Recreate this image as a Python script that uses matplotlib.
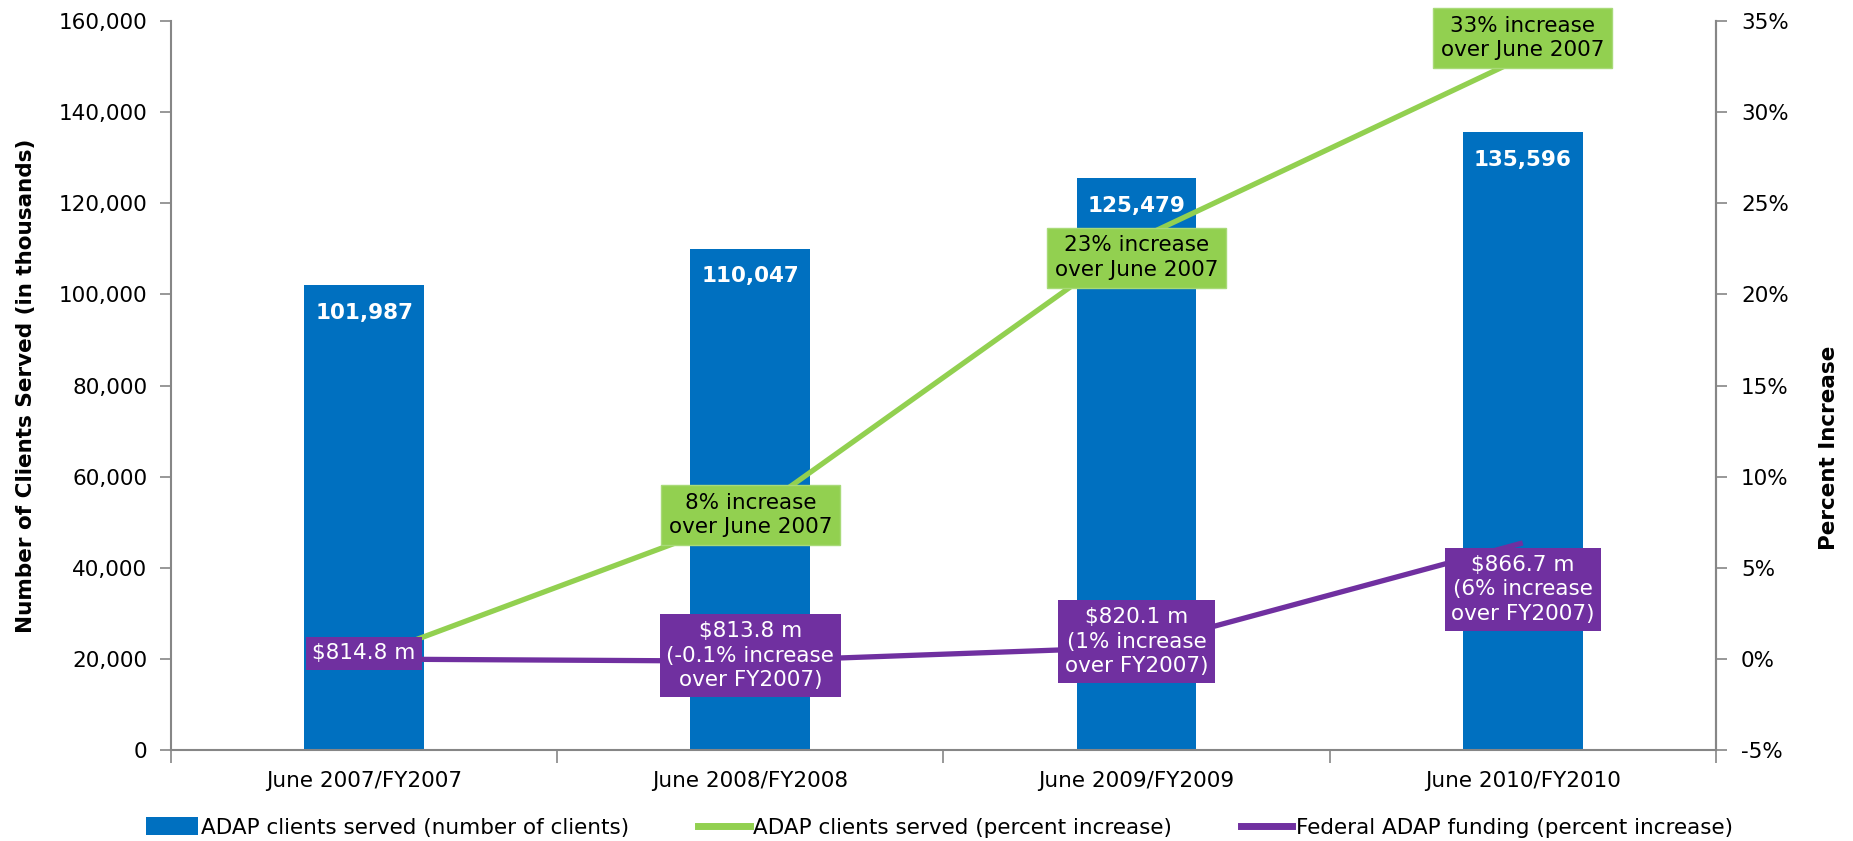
import matplotlib
matplotlib.use("Agg")
import matplotlib.pyplot as plt
from matplotlib.patches import Patch
from matplotlib.lines import Line2D
from matplotlib.ticker import FuncFormatter

categories = ["June 2007/FY2007", "June 2008/FY2008", "June 2009/FY2009", "June 2010/FY2010"]
clients = [101987, 110047, 125479, 135596]
clients_pct = [0.0, 7.9, 23.0, 33.0]
funding_pct = [0.0, -0.12, 0.65, 6.37]
clients_labels = ["8% increase\nover June 2007", "23% increase\nover June 2007", "33% increase\nover June 2007"]
funding_labels = ["$814.8 m", "$813.8 m\n(-0.1% increase\nover FY2007)", "$820.1 m\n(1% increase\nover FY2007)", "$866.7 m\n(6% increase\nover FY2007)"]

BLUE = "#0070C0"
GREEN = "#92D050"
PURPLE = "#7030A0"
GRAY = "#868686"
FS = 15.5

plt.rcParams['font.family'] = ['DejaVu Sans']
fig = plt.figure(figsize=(18.53, 8.41), dpi=100)
ax = fig.add_axes([0.0923, 0.108, 0.926 - 0.0923, 0.975 - 0.108])
x = list(range(len(categories)))
bars = ax.bar(x, clients, width=0.31, color=BLUE, zorder=2)
ax.set_xlim(-0.5, 3.5)
ax.set_ylim(0, 160000)
ax.set_yticks(range(0, 160001, 20000))
ax.yaxis.set_major_formatter(FuncFormatter(lambda v, p: f"{int(v):,}"))
ax.set_xticks(x)
ax.set_xticklabels(categories, fontsize=FS)
ax.set_xticks([-0.5, 0.5, 1.5, 2.5, 3.5], minor=True)
ax.tick_params(axis='x', which='major', length=0, pad=15)
ax.tick_params(axis='x', which='minor', length=9, width=1.2, color=GRAY, direction='out')
ax.tick_params(axis='y', labelsize=FS, length=8, width=1.2, color=GRAY, direction='out', pad=9)
ax.spines['top'].set_visible(False)
for s in ['left', 'bottom', 'right']:
    ax.spines[s].set_color(GRAY)
    ax.spines[s].set_linewidth(1.5)
ax.set_ylabel("Number of Clients Served (in thousands)", fontsize=15.5, fontweight='bold', labelpad=16)

for xi, v in zip(x, clients):
    ax.annotate(f"{v:,}", (xi, v), xytext=(0, -20), textcoords='offset points',
                ha='center', va='center', color='white', fontsize=15.5, fontweight='bold', zorder=3)

ax2 = ax.twinx()
ax2.set_ylim(-5, 35)
ax2.set_yticks(range(-5, 36, 5))
ax2.yaxis.set_major_formatter(FuncFormatter(lambda v, p: f"{int(v)}%"))
ax2.tick_params(axis='y', labelsize=FS, length=8, width=1.2, color=GRAY, direction='out', pad=10)
for s in ['top', 'left', 'bottom']:
    ax2.spines[s].set_visible(False)
ax2.spines['right'].set_color(GRAY)
ax2.spines['right'].set_linewidth(1.5)
ax2.set_ylabel("Percent Increase", fontsize=15.5, fontweight='bold', rotation=90,
               va='center', ha='center')
ax2.yaxis.set_label_coords(1.0735, 0.415)

ax2.plot(x, clients_pct, color=GREEN, lw=3.8, zorder=3, solid_capstyle='butt')
ax2.plot(x, funding_pct, color=PURPLE, lw=3.8, zorder=3, solid_capstyle='butt')

green_offsets = [(0, 0), (0, -13), (0, 14)]
for xi, yv, lab, off in zip(x[1:], clients_pct[1:], clients_labels, green_offsets):
    ax2.annotate(lab, (xi, yv), xytext=off, textcoords='offset points', ha='center', va='center',
                 fontsize=FS, color='black', linespacing=1.3, zorder=5,
                 bbox=dict(boxstyle='square,pad=0.36', fc=GREEN, ec='#A8DA78', lw=1))

purple_offsets = [(0, 4), (0, 4), (0, 4), (0, -33.5)]
for xi, yv, lab, off in zip(x, funding_pct, funding_labels, purple_offsets):
    ax2.annotate(lab, (xi, yv), xytext=off, textcoords='offset points', ha='center', va='center',
                 fontsize=FS, color='white', linespacing=1.3, zorder=6,
                 bbox=dict(boxstyle='square,pad=0.3', fc=PURPLE, ec='none'))

handles = [Patch(facecolor=BLUE, edgecolor='none'),
           Line2D([0], [0], color=GREEN, lw=5),
           Line2D([0], [0], color=PURPLE, lw=5)]
labels = ["ADAP clients served (number of clients)", "ADAP clients served (percent increase)",
          "Federal ADAP funding (percent increase)"]
fig.legend(handles, labels, loc='center', bbox_to_anchor=(0.507, 0.016), ncol=3, frameon=False,
           fontsize=FS, handlelength=2.4, handleheight=0.9, handletextpad=0.15, columnspacing=3.2)

fig.savefig("out.png", dpi=100)
